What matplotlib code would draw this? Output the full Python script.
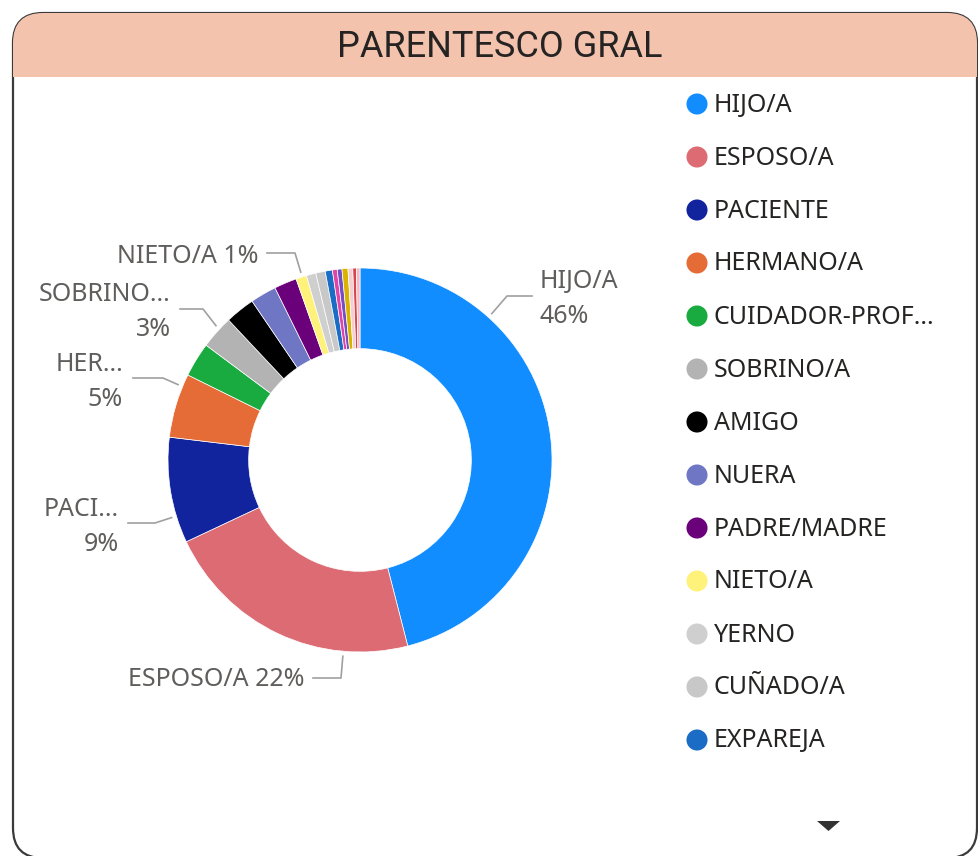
import matplotlib.pyplot as plt
from matplotlib.patches import FancyBboxPatch, Rectangle, Polygon
import numpy as np

W, H = 979, 856

categories = ["HIJO/A", "ESPOSO/A", "PACIENTE", "HERMANO/A", "CUIDADOR-PROFESIONAL",
              "SOBRINO/A", "AMIGO", "NUERA", "PADRE/MADRE", "NIETO/A", "YERNO",
              "CUÑADO/A", "EXPAREJA", "PRIMO/A", "TÍO/A", "SUEGRO/A", "VECINO/A",
              "ABUELO/A", "OTRO"]
values = [460, 220, 89, 54, 29, 28, 25, 22, 19, 9, 8, 8, 6, 4, 4, 5, 4, 3, 3]
colors = ["#118DFF", "#DD6B74", "#12239E", "#E66C37", "#1AAB40", "#B3B3B3", "#000000",
          "#6F77C4", "#6B007B", "#FFF27A", "#CFCFCF", "#C8C8C8", "#1A6CC4", "#E044A7",
          "#744EC2", "#D9B300", "#F3CFCF", "#D64550", "#F7B8C0"]
legend_names = ["HIJO/A", "ESPOSO/A", "PACIENTE", "HERMANO/A", "CUIDADOR-PROF...",
                "SOBRINO/A", "AMIGO", "NUERA", "PADRE/MADRE", "NIETO/A", "YERNO",
                "CUÑADO/A", "EXPAREJA"]

# data labels: (category index, shown name, anchor angle from top, elbow, line end, text pos, two lines?)
labels = [
    (0, "HIJO/A", 42, (507, 296), (532, 296), (540, 299), "left", True),
    (1, "ESPOSO/A", 185, (341, 678), (313, 678), (305, 679), "right", False),
    (2, "PACI...", 253, (155, 523), (128, 523), (119, 527), "right", True),
    (3, "HER...", 292.5, (163, 378), (133, 378), (123, 382), "right", True),
    (5, "SOBRINO...", 313, (203, 309), (180, 309), (171, 312), "right", True),
    (9, "NIETO/A", 342.5, (295, 253), (267, 253), (259, 256), "right", False),
]

cx, cy, R = 360, 460, 192
label_font = ["Noto Sans", "DejaVu Sans"]

fig = plt.figure(figsize=(W / 100, H / 100), dpi=100)
ax = fig.add_axes([0, 0, 1, 1])

# card with header
card = FancyBboxPatch((13, 13), 964, 845, boxstyle="round,pad=0,rounding_size=30",
                      facecolor="white", edgecolor="#3a3a3a", lw=1.6, zorder=1)
ax.add_patch(card)
header = Rectangle((13, 13), 964, 64, facecolor="#F4C3AE", edgecolor="none", zorder=1.5)
ax.add_patch(header)
header.set_clip_path(card)
ax.text(500, 47, "PARENTESCO GRAL", fontsize=26, family="Roboto", color="#252423",
        ha="center", va="center", zorder=3)

# donut, y axis is inverted so startangle=-90 + counterclock gives clockwise from top
ax.pie(values, colors=colors, startangle=-90, counterclock=True, center=(cx, cy), radius=R,
       wedgeprops=dict(width=R * 0.42, edgecolor="white", linewidth=0.5), normalize=True)

total = sum(values)
for idx, name, ang, elbow, end, pos, ha, two in labels:
    pct = round(values[idx] / total * 100)
    t = np.deg2rad(ang - 90)
    start = (cx + (R + 5) * np.cos(t), cy + (R + 5) * np.sin(t))
    ax.plot([start[0], elbow[0], end[0]], [start[1], elbow[1], end[1]],
            color="#A0A0A0", lw=1.2, zorder=3)
    txt = f"{name}\n{pct}%" if two else f"{name} {pct}%"
    ax.text(pos[0], pos[1], txt, ha=ha, va="center", fontsize=18, family=label_font,
            color="#605E5C", linespacing=1.55, zorder=3)

# legend
for i, name in enumerate(legend_names):
    y = 104 + i * 53
    ax.scatter([697], [y], s=230, color=colors[i], edgecolors="none", zorder=3)
    ax.text(714, y + 1, name, ha="left", va="center", fontsize=18, family=label_font,
            color="#252423", zorder=3)

# scroll arrow
ax.add_patch(Polygon([(817, 821), (840, 821), (828.5, 831)], closed=True,
                     facecolor="#333333", edgecolor="none", zorder=3))

ax.set_xlim(0, W)
ax.set_ylim(H, 0)
ax.set_aspect("equal")
ax.axis("off")

fig.savefig("out.png", dpi=100)
